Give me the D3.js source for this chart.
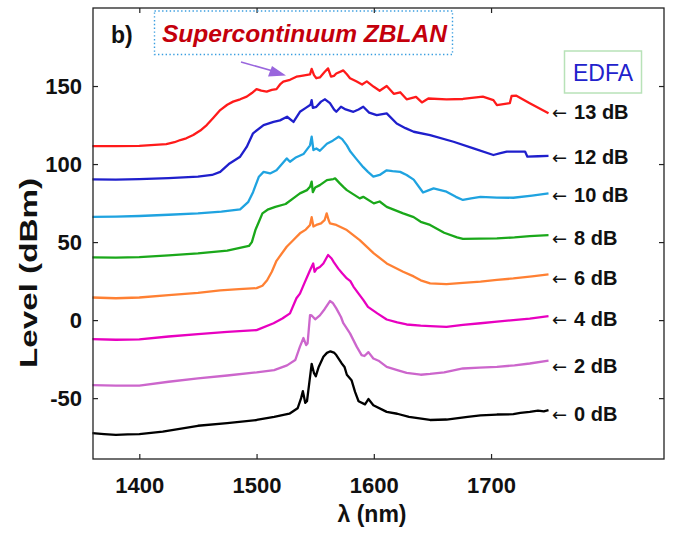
<!DOCTYPE html>
<html><head><meta charset="utf-8">
<script src="https://cdn.jsdelivr.net/npm/d3@7"></script>
<style>body{margin:0;background:#fff}svg{display:block}</style>
</head><body>
<svg id="c" width="673" height="535"></svg>
<script>
// ---------- data ----------
const xTicks = [1400, 1500, 1600, 1700];
const yTicks = [-50, 0, 50, 100, 150];
const gainLabels = ["0 dB", "2 dB", "4 dB", "6 dB", "8 dB", "10 dB", "12 dB", "13 dB"];
const labelLevels = [-60.3, -29.5, 0.6, 26.9, 52.6, 80.1, 104.5, 133.3];
const seriesColors = ["#000000", "#cc66cc", "#e800c0", "#ff8033", "#1aa81a", "#1fa3e0", "#1f1fcc", "#ff1a1a"];

const s0 = [[1360,-72.4],[1370,-73],[1380,-73.5],[1390,-73.2],[1400,-73],[1420,-71.5],[1450,-67.7],[1475,-66],[1500,-64],[1515,-62],[1528,-60],[1535,-56.5],[1538,-50],[1539.5,-45.5],[1541.5,-53],[1543,-52],[1545,-40],[1547,-28],[1549,-34],[1550.5,-36],[1553,-30],[1557,-23.5],[1560,-21],[1563,-20],[1566,-20.8],[1568,-22.4],[1572.5,-27.6],[1575,-30],[1577,-35],[1581,-38.5],[1584,-46],[1587,-52],[1592.5,-54],[1595.4,-50.6],[1599.6,-54.5],[1611,-58.8],[1620,-60],[1630,-62],[1648,-64],[1662,-63.7],[1680,-62],[1691,-61],[1705,-60.5],[1719,-60.3],[1725,-59.5],[1733,-58.8],[1740,-58],[1745,-58.5],[1749,-57.7]];
const s2 = [[1360,-41.7],[1380,-42],[1400,-42],[1425,-39.5],[1450,-37.4],[1475,-35.5],[1500,-33.5],[1515,-32],[1526,-29],[1533,-25.6],[1537,-17],[1540,-11.5],[1542.3,-16],[1543.5,-15],[1545.6,3.2],[1547,3],[1550,0.5],[1554,3],[1558,7],[1562.6,12.2],[1565,11],[1568,7.5],[1572,2],[1574,-2],[1579.7,-8.5],[1585.4,-17],[1589.6,-22.4],[1592,-23],[1595.4,-20.5],[1599.6,-24.6],[1604,-26],[1611,-30],[1620,-32],[1628,-33.8],[1640,-35],[1648,-34.5],[1660,-33.5],[1676,-31],[1690,-30.5],[1705,-30],[1720,-29],[1733,-27.8],[1749,-26]];
const s4 = [[1360,-12.2],[1380,-12.6],[1400,-12.4],[1425,-10.5],[1450,-9],[1475,-7.5],[1500,-6.4],[1514.5,-2],[1522,1],[1528.5,4.3],[1534,14],[1537,17],[1541,24],[1545.6,32],[1548.3,36.3],[1549.5,31],[1551.3,33],[1554,34],[1557,36.3],[1561,41.7],[1564,39.5],[1566,37],[1569.7,33],[1573,30],[1577,26.7],[1580,25],[1582.6,21.5],[1587,17],[1591,13],[1595,8.5],[1603,4.3],[1611,0.4],[1620,-1.5],[1628,-2.8],[1640,-3.5],[1648,-3.8],[1662,-4.3],[1676,-3],[1691,-2],[1705,-1],[1719,0],[1733,1],[1749,2.6]];
const s6 = [[1360,14.5],[1380,14],[1400,14.5],[1425,16],[1450,17.5],[1469,19],[1485,19.8],[1500,20.5],[1505,22],[1509,25.5],[1513,31],[1517,38],[1525.7,47],[1531,51],[1537,55.6],[1542,58],[1545.6,61],[1547,66],[1548.5,60],[1551,61],[1555,62],[1558,64],[1559.8,68.4],[1561.5,64],[1562.6,62],[1568,61],[1577,57.7],[1588,51.3],[1600,42.8],[1611,36.3],[1625,31],[1634,28],[1640,25.5],[1648,23.5],[1662,23],[1676,23.8],[1691,24.6],[1705,25.8],[1719,26.7],[1735,28],[1749,29.3]];
const s8 = [[1360,40.2],[1380,40],[1400,40.4],[1425,41.5],[1450,42.7],[1475,44.5],[1493.5,47.5],[1496,50],[1499,57.7],[1502,63],[1505,68.4],[1510,71],[1516,72.6],[1524.8,74.4],[1533,79],[1537,81.2],[1543,83.3],[1545.6,85.4],[1547,88.7],[1548,82],[1550,85],[1554,86.5],[1560,89.7],[1565.5,90.4],[1567,90.8],[1571,87.6],[1574,85.4],[1577,83.3],[1588,78],[1591,79],[1600,74.8],[1605,76],[1611,72.6],[1625,68.4],[1634,66],[1640,63],[1648,61],[1660,56],[1671,53],[1676,52],[1690,52.2],[1705,52.4],[1720,53],[1733,53.8],[1749,54.5]];
const s10 = [[1360,66.2],[1380,66.3],[1400,66.7],[1425,67.5],[1450,68.4],[1470,69.5],[1486,71],[1493,75.8],[1497,82],[1499,86],[1502,91.9],[1506,95],[1511.5,94],[1517,96],[1525.7,103.6],[1528.5,101.5],[1533,104],[1540,106.4],[1545.6,112],[1547,117.5],[1548.5,109],[1551,110],[1554,108.5],[1560,113],[1565,115],[1570,117.5],[1573,116],[1577,112],[1580,108],[1585.4,103],[1591,98],[1595,95],[1599.6,92],[1605,93],[1611,96],[1616,95.5],[1622.5,95],[1628,93],[1634,90],[1642,81.8],[1646,83],[1651,84.4],[1656,83.5],[1662,82.3],[1670,79],[1676,77],[1683,78],[1691,79],[1705,78.5],[1719,78.4],[1735,79.8],[1749,81.2]];
const s12 = [[1360,90.2],[1380,90],[1400,90.4],[1425,91],[1450,91.9],[1462,93],[1469,95],[1477,100.4],[1486,104.7],[1491.6,111],[1497,119.7],[1506,125],[1514.5,127],[1520,128],[1526,130.3],[1531.5,127],[1537,133.5],[1542,136],[1546,138],[1547,141],[1548,136],[1551,136.7],[1555,140],[1558.4,141.5],[1562.6,139],[1566,135],[1568,133.5],[1572,136.7],[1576,135],[1582.6,133.5],[1587,135],[1591,136.7],[1596,133],[1602.5,131.4],[1611,132.5],[1619.5,126],[1627,123],[1634,120.7],[1648,118.6],[1668,114.3],[1685,110],[1702,105.8],[1708,107],[1713.4,108],[1729,108],[1731,104.7],[1740,105],[1749,105.3]];
const s13 = [[1360,111.5],[1380,111.5],[1400,111.7],[1423,112.8],[1430,114],[1435,115.4],[1440,116.5],[1446,118.6],[1452,121.5],[1457.5,125],[1463,129.5],[1469,134.6],[1475,138],[1480,140],[1486,141.5],[1491.6,143.2],[1496,145.5],[1500,148],[1504,147],[1508.6,146.4],[1513,147.5],[1517,148],[1520,151],[1522.8,152.8],[1528.5,154],[1534,156],[1537,156.4],[1545.6,157.5],[1547,161],[1549,157],[1551,155],[1554,155.5],[1558,159],[1561,161.3],[1563.5,156],[1566,156.5],[1568,158],[1574,160],[1577,157.5],[1579.7,155],[1585,153],[1590,151],[1594,153],[1600,149.5],[1605,147],[1611,150],[1617,145],[1622.5,146],[1628,141.5],[1636,143],[1641,139.5],[1646.5,142],[1662,141.5],[1676,141.7],[1693,143.2],[1702,141],[1705,137.8],[1716,139],[1717.5,143.6],[1721.6,143.8],[1733,139],[1749,132.5]];
const series = [s0, s2, s4, s6, s8, s10, s12, s13];

// ---------- layout ----------
const svg = d3.select("#c");
const L = 93, R = 664, T = 8, B = 459;
const x = d3.scaleLinear().domain([1360.5, 1847.5]).range([L, R]);
const y = d3.scaleLinear().domain([-89, 200]).range([B, T]);
const font = "'Liberation Sans', Arial, sans-serif";
const fmt = d => String(d);

// curves
const line = d3.line().x(d => x(d[0])).y(d => y(d[1])).curve(d3.curveLinear);
const g = svg.append("g");
series.forEach((s, i) => {
  g.append("path").attr("d", line(s)).attr("fill", "none")
    .attr("stroke", seriesColors[i]).attr("stroke-width", 2.3)
    .attr("stroke-linejoin", "round");
});

// axes
const axB = svg.append("g").attr("transform", `translate(0,${B})`)
  .call(d3.axisBottom(x).tickValues(xTicks).tickSizeInner(-5).tickSizeOuter(0).tickPadding(18).tickFormat(fmt));
const axT = svg.append("g").attr("transform", `translate(0,${T})`)
  .call(d3.axisTop(x).tickValues(xTicks).tickSizeInner(-5).tickSizeOuter(0).tickFormat(""));
const axL = svg.append("g").attr("transform", `translate(${L},0)`)
  .call(d3.axisLeft(y).tickValues(yTicks).tickSizeInner(-5).tickSizeOuter(0).tickPadding(11).tickFormat(fmt));
const axR = svg.append("g").attr("transform", `translate(${R},0)`)
  .call(d3.axisRight(y).tickValues(yTicks).tickSizeInner(-5).tickSizeOuter(0).tickFormat(""));
[axB, axT, axL, axR].forEach(a => {
  a.select(".domain").remove();
  a.selectAll("line").attr("stroke", "#222").attr("stroke-width", 1.2);
  a.selectAll("text").attr("font-family", font).attr("font-weight", "bold")
    .attr("font-size", 22).attr("fill", "#111");
});
svg.append("rect").attr("x", L).attr("y", T).attr("width", R - L).attr("height", B - T)
  .attr("fill", "none").attr("stroke", "#222").attr("stroke-width", 1.3);

// axis titles
svg.append("text").attr("x", 372).attr("y", 522).attr("text-anchor", "middle")
  .attr("font-family", font).attr("font-weight", "bold").attr("font-size", 23).attr("fill", "#111")
  .text("λ (nm)");
svg.append("text").attr("transform", "translate(37,273) rotate(-90)").attr("text-anchor", "middle")
  .attr("font-family", font).attr("font-weight", "bold").attr("font-size", 24).attr("fill", "#111")
  .attr("textLength", 190).attr("lengthAdjust", "spacingAndGlyphs")
  .text("Level (dBm)");

// gain labels
gainLabels.forEach((t, i) => {
  const ty = y(labelLevels[i]);
  const tx = svg.append("text").attr("x", 552).attr("y", ty).attr("dy", "0.35em")
    .attr("font-family", font).attr("font-size", 20).attr("fill", "#111");
  tx.append("tspan").attr("font-family", "'DejaVu Sans', sans-serif").attr("font-size", 18).text("←");
  tx.append("tspan").attr("dx", 7).attr("font-weight", "bold").text(t);
});

// "b)"
svg.append("text").attr("x", 111).attr("y", 43).attr("font-family", font).attr("font-weight", "bold")
  .attr("font-size", 23).attr("fill", "#111").text("b)");

// Supercontinuum box
svg.append("rect").attr("x", 154.5).attr("y", 11).attr("width", 298).attr("height", 43.5)
  .attr("fill", "none").attr("stroke", "#3a9ee0").attr("stroke-width", 1.4).attr("stroke-dasharray", "1.4,2.4");
svg.append("text").attr("x", 162).attr("y", 42).attr("font-family", font).attr("font-weight", "bold")
  .attr("font-style", "italic").attr("font-size", 24).attr("fill", "#c4000c")
  .attr("textLength", 285).attr("lengthAdjust", "spacingAndGlyphs").text("Supercontinuum ZBLAN");

// purple arrow
svg.append("line").attr("x1", 241).attr("y1", 62).attr("x2", 280).attr("y2", 73)
  .attr("stroke", "#9966dd").attr("stroke-width", 1.6);
svg.append("path").attr("d", "M286,75.5 L268,76.5 L272,66 Z").attr("fill", "#9966dd");

// EDFA box
svg.append("rect").attr("x", 564.5).attr("y", 51).attr("width", 77).attr("height", 42)
  .attr("fill", "none").attr("stroke", "#b8e2b8").attr("stroke-width", 1.5);
svg.append("text").attr("x", 603).attr("y", 81).attr("text-anchor", "middle").attr("font-family", font)
  .attr("font-size", 23).attr("fill", "#2222cc").text("EDFA");
</script>
</body></html>
